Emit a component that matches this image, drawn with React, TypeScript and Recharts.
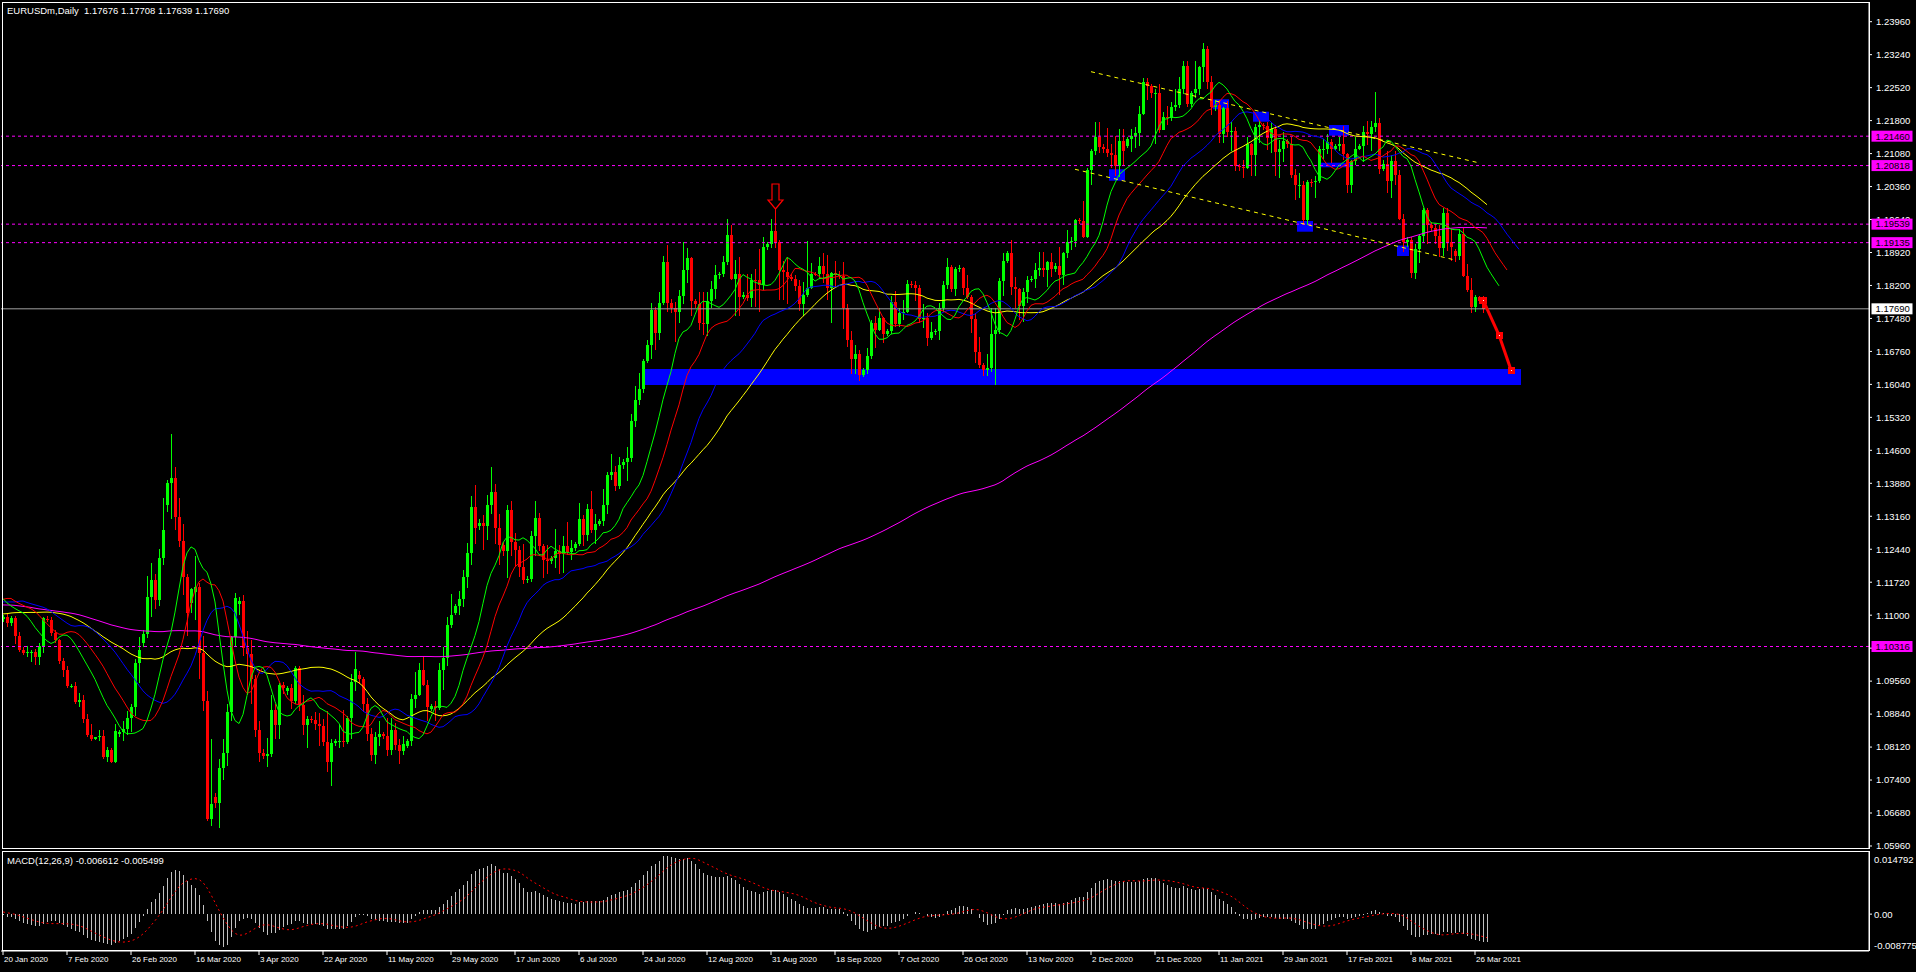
import React from 'react';
import { ComposedChart, Bar, Line, XAxis, YAxis, ReferenceLine, ReferenceArea, ReferenceDot } from 'recharts';

type Candle = [number, number, number, number];

// ---------- prior closes (only used to warm up the indicators) ----------
const pre2019Summer = [
  1.1175, 1.1240, 1.1253, 1.1222, 1.1276, 1.1333,
  1.1330, 1.1313, 1.1328, 1.1287, 1.1275, 1.1209,
  1.1212, 1.1218, 1.1193, 1.1225, 1.1294, 1.1370,
  1.1375, 1.1398, 1.1367, 1.1368, 1.1372, 1.1370,
  1.1365, 1.1287, 1.1285, 1.1284, 1.1285, 1.1225,
  1.1222, 1.1213, 1.1207, 1.1252, 1.1257, 1.1271,
  1.1270, 1.1262, 1.1211, 1.1225, 1.1275, 1.1219,
  1.1218, 1.1209, 1.1150, 1.1140, 1.1145, 1.1128,
  1.1127, 1.1126, 1.1155, 1.1075, 1.1083, 1.1108,
  1.1110, 1.1203, 1.1200, 1.1183, 1.1180, 1.1198,
  1.1195, 1.1213, 1.1171, 1.1140, 1.1107, 1.1090,
  1.1090, 1.1095, 1.1095, 1.1083, 1.1078, 1.1143,
  1.1140, 1.1102, 1.1089, 1.1081, 1.1057, 1.0990,
];
const pre2019Autumn = [
  1.0985, 1.0970, 1.0972, 1.1034, 1.1033, 1.1027,
  1.1025, 1.1044, 1.1043, 1.1010, 1.1063, 1.1073,
  1.1070, 1.1003, 1.1072, 1.1030, 1.1042, 1.1017,
  1.1015, 1.0989, 1.1020, 1.0941, 1.0940, 1.0940,
  1.0938, 1.0899, 1.0933, 1.0959, 1.0965, 1.0978,
  1.0975, 1.0971, 1.0956, 1.0971, 1.1006, 1.1040,
  1.1038, 1.1032, 1.1030, 1.1068, 1.1123, 1.1143,
  1.1145, 1.1150, 1.1127, 1.1134, 1.1104, 1.1081,
  1.1080, 1.1096, 1.1117, 1.1153, 1.1152, 1.1166,
  1.1165, 1.1127, 1.1065, 1.1068, 1.1049, 1.1018,
  1.1020, 1.1034, 1.1007, 1.1003, 1.1021, 1.1052,
  1.1050, 1.1074, 1.1077, 1.1058, 1.1055, 1.1020,
  1.1021, 1.1011, 1.1021, 1.1008, 1.1010, 1.1016,
];
const pre2019Winter = [
  1.1017, 1.1078, 1.1082, 1.1078, 1.1105, 1.1058,
  1.1060, 1.1065, 1.1093, 1.1130, 1.1130, 1.1119,
  1.1120, 1.1144, 1.1150, 1.1114, 1.1122, 1.1079,
  1.1080, 1.1089, 1.1089, 1.1098, 1.1178,
  1.1176, 1.1199, 1.1213, 1.1171, 1.1160,
  1.1158, 1.1195, 1.1153, 1.1106, 1.1104, 1.1120,
  1.1122, 1.1133, 1.1127, 1.1150, 1.1136, 1.1090,
  1.1092,
];

// ---------- daily candles [open, high, low, close] ----------
const jan2020: Candle[] = [
  [1.1092,1.1100,1.1085,1.1095],[1.1095,1.1104,1.1075,1.1082],[1.1082,1.1099,1.1077,1.1093],[1.1093,1.1098,1.1036,1.1055],[1.1055,1.1064,1.1019,1.1025],
  [1.1024,1.1030,1.1013,1.1018],[1.1018,1.1032,1.1008,1.1019],[1.1019,1.1025,1.0998,1.1020],[1.1020,1.1027,1.0992,1.1008],[1.1008,1.1039,1.0992,1.1032],[1.1032,1.1097,1.1018,1.1093],
];
const feb2020: Candle[] = [
  [1.1092,1.1098,1.1086,1.1090],[1.1090,1.1095,1.1055,1.1061],[1.1061,1.1068,1.1039,1.1045],[1.1045,1.1048,1.0994,1.1000],[1.1000,1.1007,1.0965,1.0980],[1.0980,1.0990,1.0940,1.0945],
  [1.0944,1.0950,1.0940,1.0946],[1.0946,1.0955,1.0905,1.0910],[1.0910,1.0930,1.0900,1.0915],[1.0915,1.0925,1.0865,1.0873],[1.0873,1.0885,1.0835,1.0839],[1.0839,1.0862,1.0825,1.0830],
  [1.0830,1.0835,1.0828,1.0833],[1.0833,1.0850,1.0825,1.0836],[1.0836,1.0850,1.0786,1.0790],[1.0790,1.0812,1.0780,1.0805],[1.0805,1.0810,1.0778,1.0780],[1.0780,1.0863,1.0777,1.0846],
  [1.0840,1.0850,1.0835,1.0845],[1.0845,1.0870,1.0826,1.0851],[1.0851,1.0890,1.0838,1.0876],[1.0876,1.0905,1.0845,1.0900],[1.0900,1.1005,1.0880,1.0995],[1.0995,1.1053,1.0953,1.1025],
];
const mar2020: Candle[] = [
  [1.1040,1.1068,1.1030,1.1060],[1.1060,1.1185,1.1050,1.1140],[1.1140,1.1214,1.1095,1.1177],[1.1177,1.1190,1.1113,1.1134],[1.1134,1.1245,1.1120,1.1225],[1.1225,1.1355,1.1210,1.1285],
  [1.1340,1.1395,1.1325,1.1389],[1.1389,1.1495,1.1310,1.1400],[1.1400,1.1424,1.1285,1.1314],[1.1314,1.1355,1.1248,1.1261],[1.1261,1.1300,1.1145,1.1184],[1.1184,1.1190,1.1055,1.1104],
  [1.1127,1.1160,1.1105,1.1157],[1.1150,1.1230,1.1090,1.1162],[1.1162,1.1170,1.0960,1.1017],[1.1017,1.1055,1.0890,1.0912],[1.0912,1.0935,1.0650,1.0656],[1.0656,1.0830,1.0640,1.0688],
  [1.0704,1.0712,1.0680,1.0690],[1.0690,1.0785,1.0636,1.0766],[1.0766,1.0830,1.0740,1.0799],[1.0799,1.0905,1.0770,1.0889],[1.0889,1.1055,1.0870,1.1053],[1.1053,1.1148,1.1030,1.1137],
  [1.1125,1.1140,1.1100,1.1130],[1.1130,1.1145,1.1010,1.1028],[1.1028,1.1065,1.0925,1.1015],
];
const apr2020: Candle[] = [
  [1.1015,1.1045,1.0905,1.0960],[1.0960,1.0970,1.0835,1.0850],[1.0850,1.0870,1.0780,1.0800],
  [1.0800,1.0808,1.0785,1.0792],[1.0792,1.0832,1.0768,1.0796],[1.0796,1.0925,1.0790,1.0893],[1.0893,1.0905,1.0830,1.0860],[1.0860,1.0952,1.0830,1.0948],[1.0948,1.0955,1.0928,1.0940],
  [1.0935,1.0945,1.0925,1.0940],[1.0940,1.0950,1.0895,1.0913],[1.0913,1.0990,1.0905,1.0984],[1.0984,1.0990,1.0890,1.0904],[1.0904,1.0925,1.0838,1.0860],[1.0860,1.0879,1.0810,1.0874],
  [1.0874,1.0880,1.0865,1.0872],[1.0872,1.0889,1.0850,1.0863],[1.0863,1.0887,1.0814,1.0858],[1.0858,1.0873,1.0815,1.0823],[1.0823,1.0890,1.0757,1.0780],[1.0780,1.0829,1.0728,1.0820],
  [1.0820,1.0830,1.0815,1.0825],[1.0825,1.0860,1.0810,1.0825],[1.0825,1.0892,1.0813,1.0823],[1.0823,1.0880,1.0818,1.0876],[1.0876,1.0972,1.0830,1.0955],
];
const may2020: Candle[] = [
  [1.0955,1.1019,1.0935,1.0982],
  [1.0970,1.0978,1.0950,1.0960],[1.0960,1.0965,1.0888,1.0905],[1.0905,1.0920,1.0826,1.0840],[1.0840,1.0854,1.0782,1.0795],[1.0795,1.0845,1.0775,1.0833],[1.0833,1.0868,1.0815,1.0840],
  [1.0840,1.0845,1.0830,1.0836],[1.0836,1.0876,1.0793,1.0806],[1.0806,1.0875,1.0795,1.0850],[1.0850,1.0864,1.0806,1.0816],[1.0816,1.0830,1.0775,1.0804],[1.0804,1.0836,1.0795,1.0818],
  [1.0815,1.0830,1.0810,1.0825],[1.0825,1.0927,1.0815,1.0917],[1.0917,1.0976,1.0898,1.0925],[1.0925,1.0995,1.0923,1.0980],[1.0980,1.1008,1.0946,1.0948],[1.0948,1.0958,1.0870,1.0900],
  [1.0895,1.0906,1.0890,1.0902],[1.0902,1.0912,1.0870,1.0897],[1.0897,1.0995,1.0892,1.0980],[1.0980,1.1030,1.0936,1.1007],[1.1007,1.1097,1.0990,1.1079],[1.1079,1.1147,1.1072,1.1100],
  [1.1105,1.1125,1.1100,1.1120],
];
const jun2020: Candle[] = [
  [1.1120,1.1153,1.1100,1.1135],[1.1135,1.1198,1.1117,1.1184],[1.1184,1.1257,1.1160,1.1235],[1.1235,1.1361,1.1210,1.1337],[1.1337,1.1384,1.1256,1.1290],
  [1.1295,1.1310,1.1285,1.1302],[1.1302,1.1319,1.1242,1.1295],[1.1295,1.1362,1.1264,1.1340],[1.1340,1.1424,1.1320,1.1370],[1.1370,1.1387,1.1255,1.1290],[1.1290,1.1322,1.1209,1.1253],
  [1.1253,1.1260,1.1230,1.1240],[1.1240,1.1340,1.1181,1.1330],[1.1330,1.1349,1.1230,1.1260],[1.1260,1.1280,1.1205,1.1243],[1.1243,1.1251,1.1184,1.1205],[1.1205,1.1255,1.1168,1.1177],
  [1.1177,1.1185,1.1170,1.1180],[1.1180,1.1284,1.1172,1.1272],[1.1272,1.1349,1.1229,1.1312],[1.1312,1.1323,1.1240,1.1250],[1.1250,1.1255,1.1181,1.1220],[1.1220,1.1254,1.1190,1.1218],
  [1.1218,1.1230,1.1212,1.1225],[1.1225,1.1288,1.1202,1.1240],[1.1240,1.1254,1.1190,1.1234],
];
const jul2020: Candle[] = [
  [1.1234,1.1272,1.1193,1.1251],[1.1251,1.1303,1.1231,1.1238],[1.1238,1.1265,1.1221,1.1246],
  [1.1246,1.1260,1.1240,1.1255],[1.1255,1.1345,1.1250,1.1309],[1.1309,1.1318,1.1251,1.1276],[1.1276,1.1342,1.1262,1.1331],[1.1331,1.1371,1.1280,1.1286],[1.1286,1.1320,1.1255,1.1300],
  [1.1300,1.1310,1.1295,1.1305],[1.1305,1.1375,1.1295,1.1341],[1.1341,1.1412,1.1320,1.1407],[1.1407,1.1452,1.1396,1.1412],[1.1412,1.1426,1.1371,1.1383],[1.1383,1.1445,1.1375,1.1429],
  [1.1429,1.1440,1.1420,1.1435],[1.1435,1.1468,1.1394,1.1444],[1.1444,1.1540,1.1435,1.1525],[1.1525,1.1600,1.1510,1.1569],[1.1569,1.1628,1.1560,1.1595],[1.1595,1.1660,1.1585,1.1656],
  [1.1656,1.1700,1.1650,1.1690],[1.1690,1.1781,1.1660,1.1766],[1.1766,1.1772,1.1680,1.1716],[1.1716,1.1806,1.1700,1.1781],[1.1781,1.1885,1.1778,1.1872],[1.1872,1.1908,1.1761,1.1781],
];
const aug2020: Candle[] = [
  [1.1781,1.1790,1.1760,1.1770],[1.1770,1.1784,1.1696,1.1762],[1.1762,1.1810,1.1737,1.1798],[1.1798,1.1916,1.1780,1.1853],[1.1853,1.1902,1.1825,1.1879],[1.1879,1.1883,1.1753,1.1785],
  [1.1785,1.1790,1.1770,1.1780],[1.1780,1.1806,1.1723,1.1739],[1.1739,1.1805,1.1711,1.1736],[1.1736,1.1805,1.1710,1.1787],[1.1787,1.1829,1.1770,1.1812],[1.1812,1.1865,1.1790,1.1842],
  [1.1842,1.1850,1.1835,1.1845],[1.1845,1.1885,1.1838,1.1871],[1.1871,1.1966,1.1865,1.1930],[1.1930,1.1951,1.1831,1.1835],[1.1835,1.1876,1.1753,1.1846],[1.1846,1.1883,1.1753,1.1795],
  [1.1795,1.1805,1.1790,1.1800],[1.1800,1.1845,1.1786,1.1792],[1.1792,1.1845,1.1774,1.1833],[1.1833,1.1855,1.1772,1.1831],[1.1831,1.1900,1.1762,1.1820],[1.1820,1.1925,1.1811,1.1903],
  [1.1903,1.1915,1.1898,1.1910],[1.1910,1.1966,1.1902,1.1938],
];
const sep2020: Candle[] = [
  [1.1938,1.2003,1.1901,1.1915],[1.1915,1.1919,1.1789,1.1853],[1.1853,1.1874,1.1789,1.1850],[1.1850,1.1882,1.1780,1.1838],
  [1.1838,1.1845,1.1830,1.1835],[1.1835,1.1843,1.1807,1.1819],[1.1819,1.1832,1.1765,1.1780],[1.1780,1.1827,1.1754,1.1800],[1.1800,1.1917,1.1795,1.1814],[1.1814,1.1870,1.1812,1.1846],
  [1.1846,1.1850,1.1840,1.1845],[1.1845,1.1883,1.1834,1.1863],[1.1863,1.1890,1.1826,1.1845],[1.1845,1.1886,1.1789,1.1815],[1.1815,1.1850,1.1737,1.1848],[1.1848,1.1873,1.1817,1.1843],
  [1.1843,1.1852,1.1835,1.1840],[1.1840,1.1872,1.1725,1.1770],[1.1770,1.1780,1.1685,1.1701],[1.1701,1.1720,1.1626,1.1660],[1.1660,1.1690,1.1627,1.1670],[1.1670,1.1680,1.1612,1.1625],
  [1.1625,1.1640,1.1620,1.1635],[1.1635,1.1684,1.1627,1.1666],[1.1666,1.1745,1.1660,1.1737],[1.1737,1.1754,1.1683,1.1722],
];
const oct2020: Candle[] = [
  [1.1722,1.1771,1.1720,1.1750],[1.1750,1.1751,1.1695,1.1713],
  [1.1713,1.1725,1.1710,1.1720],[1.1720,1.1797,1.1715,1.1783],[1.1783,1.1807,1.1730,1.1735],[1.1735,1.1771,1.1730,1.1760],[1.1760,1.1788,1.1745,1.1763],[1.1763,1.1831,1.1759,1.1824],
  [1.1824,1.1830,1.1815,1.1820],[1.1820,1.1829,1.1785,1.1814],[1.1814,1.1820,1.1737,1.1746],[1.1746,1.1779,1.1728,1.1748],[1.1748,1.1760,1.1688,1.1706],[1.1706,1.1741,1.1700,1.1718],
  [1.1718,1.1725,1.1712,1.1720],[1.1720,1.1781,1.1702,1.1770],[1.1770,1.1829,1.1761,1.1820],[1.1820,1.1881,1.1813,1.1860],[1.1860,1.1865,1.1806,1.1812],[1.1812,1.1860,1.1798,1.1855],
  [1.1855,1.1865,1.1850,1.1858],[1.1858,1.1861,1.1800,1.1814],[1.1814,1.1842,1.1790,1.1795],[1.1795,1.1800,1.1717,1.1746],[1.1746,1.1760,1.1650,1.1674],[1.1674,1.1708,1.1640,1.1646],
];
const nov2020: Candle[] = [
  [1.1646,1.1650,1.1622,1.1635],[1.1635,1.1670,1.1622,1.1640],[1.1640,1.1770,1.1630,1.1715],[1.1715,1.1770,1.1603,1.1722],[1.1722,1.1837,1.1713,1.1830],[1.1830,1.1891,1.1797,1.1874],
  [1.1874,1.1895,1.1870,1.1890],[1.1890,1.1920,1.1800,1.1817],[1.1817,1.1838,1.1771,1.1813],[1.1813,1.1815,1.1745,1.1775],[1.1775,1.1815,1.1740,1.1806],[1.1806,1.1840,1.1781,1.1833],
  [1.1833,1.1840,1.1828,1.1835],[1.1835,1.1870,1.1815,1.1853],[1.1853,1.1894,1.1840,1.1859],[1.1859,1.1892,1.1838,1.1853],[1.1853,1.1874,1.1817,1.1871],[1.1871,1.1891,1.1838,1.1855],
  [1.1855,1.1868,1.1850,1.1862],[1.1862,1.1905,1.1800,1.1843],[1.1843,1.1892,1.1821,1.1890],[1.1890,1.1942,1.1880,1.1915],[1.1915,1.1925,1.1897,1.1917],[1.1917,1.1965,1.1905,1.1962],
  [1.1962,1.1968,1.1955,1.1960],[1.1960,1.2004,1.1923,1.1926],
];
const dec2020: Candle[] = [
  [1.1926,1.2077,1.1924,1.2072],[1.2072,1.2118,1.2039,1.2113],[1.2113,1.2176,1.2104,1.2145],[1.2145,1.2177,1.2110,1.2122],
  [1.2122,1.2128,1.2110,1.2118],[1.2118,1.2164,1.2100,1.2109],[1.2109,1.2130,1.2076,1.2105],[1.2105,1.2147,1.2058,1.2080],[1.2080,1.2162,1.2057,1.2135],[1.2135,1.2161,1.2080,1.2113],
  [1.2125,1.2145,1.2120,1.2140],[1.2140,1.2162,1.2112,1.2146],[1.2146,1.2166,1.2121,1.2153],[1.2153,1.2212,1.2125,1.2195],[1.2195,1.2273,1.2192,1.2265],[1.2265,1.2272,1.2224,1.2255],
  [1.2255,1.2260,1.2230,1.2240],[1.2240,1.2250,1.2130,1.2240],[1.2240,1.2260,1.2153,1.2160],[1.2160,1.2198,1.2159,1.2187],[1.2187,1.2212,1.2170,1.2185],
  [1.2185,1.2220,1.2180,1.2210],[1.2210,1.2250,1.2200,1.2215],[1.2215,1.2276,1.2207,1.2248],[1.2248,1.2310,1.2239,1.2299],[1.2299,1.2310,1.2210,1.2216],
];
const jan2021: Candle[] = [
  [1.2216,1.2245,1.2210,1.2240],[1.2240,1.2310,1.2230,1.2249],[1.2249,1.2300,1.2235,1.2298],[1.2298,1.2349,1.2265,1.2336],[1.2336,1.2344,1.2250,1.2265],[1.2265,1.2278,1.2193,1.2210],
  [1.2210,1.2225,1.2200,1.2215],[1.2215,1.2225,1.2132,1.2151],[1.2151,1.2210,1.2132,1.2208],[1.2208,1.2222,1.2145,1.2156],[1.2156,1.2178,1.2113,1.2157],[1.2157,1.2165,1.2070,1.2080],
  [1.2080,1.2085,1.2070,1.2078],[1.2078,1.2095,1.2054,1.2076],[1.2076,1.2145,1.2075,1.2130],[1.2130,1.2131,1.2060,1.2105],[1.2105,1.2172,1.2058,1.2167],[1.2167,1.2180,1.2131,1.2170],
  [1.2170,1.2175,1.2160,1.2168],[1.2168,1.2177,1.2116,1.2142],[1.2142,1.2177,1.2110,1.2161],[1.2161,1.2170,1.2058,1.2111],[1.2111,1.2137,1.2054,1.2118],[1.2118,1.2155,1.2090,1.2135],
  [1.2135,1.2140,1.2120,1.2128],
];
const feb2021: Candle[] = [
  [1.2128,1.2144,1.2054,1.2061],[1.2061,1.2075,1.2006,1.2040],[1.2040,1.2066,1.2012,1.2040],[1.2040,1.2048,1.1952,1.1963],[1.1963,1.2050,1.1951,1.2047],
  [1.2047,1.2052,1.2035,1.2045],[1.2045,1.2059,1.2012,1.2049],[1.2049,1.2124,1.2044,1.2118],[1.2118,1.2140,1.2096,1.2118],[1.2118,1.2150,1.2108,1.2133],[1.2133,1.2139,1.2088,1.2118],
  [1.2118,1.2130,1.2115,1.2125],[1.2125,1.2145,1.2113,1.2128],[1.2128,1.2169,1.2095,1.2107],[1.2107,1.2110,1.2022,1.2040],[1.2040,1.2095,1.2023,1.2091],[1.2091,1.2145,1.2083,1.2119],
  [1.2119,1.2130,1.2115,1.2125],[1.2125,1.2169,1.2090,1.2155],[1.2155,1.2180,1.2126,1.2150],[1.2150,1.2180,1.2113,1.2166],[1.2166,1.2243,1.2155,1.2174],[1.2174,1.2185,1.2063,1.2075],
  [1.2075,1.2095,1.2070,1.2085],
];
const mar2021: Candle[] = [
  [1.2085,1.2113,1.2022,1.2048],[1.2048,1.2105,1.2010,1.2091],[1.2091,1.2114,1.2040,1.2062],[1.2062,1.2072,1.1962,1.1966],[1.1966,1.1975,1.1893,1.1915],
  [1.1915,1.1925,1.1905,1.1920],[1.1920,1.1925,1.1836,1.1847],[1.1847,1.1910,1.1835,1.1900],[1.1900,1.1930,1.1870,1.1929],[1.1929,1.1990,1.1916,1.1985],[1.1985,1.1990,1.1910,1.1952],
  [1.1952,1.1958,1.1940,1.1945],[1.1945,1.1955,1.1910,1.1929],[1.1929,1.1952,1.1882,1.1902],[1.1902,1.1990,1.1884,1.1978],[1.1978,1.1989,1.1895,1.1914],[1.1914,1.1944,1.1874,1.1905],
  [1.1895,1.1900,1.1872,1.1885],[1.1885,1.1943,1.1875,1.1933],[1.1933,1.1945,1.1838,1.1840],[1.1840,1.1866,1.1805,1.1811],[1.1811,1.1837,1.1759,1.1774],[1.1774,1.1800,1.1762,1.1794],
  [1.1794,1.1797,1.1780,1.1785],[1.1785,1.1798,1.1759,1.1768],[1.17676,1.17708,1.17639,1.17690],
];

// ---------- axis labels, levels, drawn objects ----------
const priceTicks = [1.0596,1.0668,1.0740,1.0812,1.0884,1.0956,1.1028,1.1100,1.1172,1.1244,1.1316,1.1388,1.1460,1.1532,1.1604,1.1676,1.1748,1.1820,1.1892,1.1964,1.2036,1.2108,1.2180,1.2252,1.2324,1.2396];
const dateTicks = ['20 Jan 2020','7 Feb 2020','26 Feb 2020','16 Mar 2020','3 Apr 2020','22 Apr 2020','11 May 2020','29 May 2020','17 Jun 2020','6 Jul 2020','24 Jul 2020','12 Aug 2020','31 Aug 2020','18 Sep 2020','7 Oct 2020','26 Oct 2020','13 Nov 2020','2 Dec 2020','21 Dec 2020','11 Jan 2021','29 Jan 2021','17 Feb 2021','8 Mar 2021','26 Mar 2021'];
const levelLines = [1.21460, 1.20818, 1.19539, 1.19135, 1.10316];
const currentPrice = 1.17690;
const macdTicks = [0.014792, 0, -0.008775];
const zones = [
  { x1: 161, x2: 379, y1: 1.16027, y2: 1.16376 },
  { x1: 277, x2: 280, y1: 1.20488, y2: 1.20737 },
  { x1: 303, x2: 306, y1: 1.22047, y2: 1.22266 },
  { x1: 313, x2: 316, y1: 1.21776, y2: 1.21995 },
  { x1: 324, x2: 327, y1: 1.19374, y2: 1.19608 },
  { x1: 332, x2: 336, y1: 1.21471, y2: 1.21704 },
  { x1: 330, x2: 337, y1: 1.20781, y2: 1.20881 },
  { x1: 349, x2: 351, y1: 1.18844, y2: 1.19073 },
];
const channelUpper = [{ x: 272, y: 1.22868 }, { x: 369, y: 1.20877 }];
const channelLower = [{ x: 268, y: 1.20737 }, { x: 363, y: 1.18756 }];
const forecastPath = [{ x: 370, y: 1.17883 }, { x: 374, y: 1.17118 }, { x: 377, y: 1.16354 }];
const signalArrow = { x: 193, y: 1.19848 };

// ---------- derived series ----------
const months = [jan2020, feb2020, mar2020, apr2020, may2020, jun2020, jul2020, aug2020, sep2020, oct2020, nov2020, dec2020, jan2021, feb2021, mar2021];
const candles: Candle[] = ([] as Candle[]).concat(...months);
const preCloses = [...pre2019Summer, ...pre2019Autumn, ...pre2019Winter];
const P = preCloses.length;
const N = candles.length;
const SLOTS = 467;
const closes = [...preCloses, ...candles.map((c) => c[3])];
const medians = [...preCloses, ...candles.map((c) => (c[1] + c[2]) / 2)];

function smaSeries(src: number[], n: number) {
  const out: number[] = [];
  let sum = 0;
  for (let k = 0; k < src.length; k++) {
    sum += src[k];
    if (k >= n) sum -= src[k - n];
    out.push(sum / Math.min(n, k + 1));
  }
  return out;
}
function smmaSeries(src: number[], n: number) {
  const out: (number | undefined)[] = [];
  let prev = 0;
  for (let k = 0; k < src.length; k++) {
    if (k < n - 1) { out.push(undefined); continue; }
    if (k === n - 1) { let s = 0; for (let j = 0; j < n; j++) s += src[j]; prev = s / n; }
    else prev = (prev * (n - 1) + src[k]) / n;
    out.push(prev);
  }
  return out;
}
function emaSeries(src: number[], n: number) {
  const a = 2 / (n + 1);
  const out: number[] = [];
  for (let k = 0; k < src.length; k++) out.push(k === 0 ? src[0] : a * src[k] + (1 - a) * out[k - 1]);
  return out;
}
const lips = smmaSeries(medians, 5);
const teeth = smmaSeries(medians, 8);
const jaw = smmaSeries(medians, 13);
const sma50 = smaSeries(closes, 50);
const sma200 = smaSeries(closes, 200);
const ema12 = emaSeries(closes, 12);
const ema26 = emaSeries(closes, 26);
const macdMain = ema12.map((v, k) => v - ema26[k]);
const macdSignal = smaSeries(macdMain, 9);
const at = (arr: (number | undefined)[], k: number) => (k >= 0 && k < arr.length ? arr[k] : undefined);

const rows = Array.from({ length: SLOTS }, (_, s) => {
  const c = s < N ? candles[s] : undefined;
  const g = P + s;
  return {
    i: s,
    hl: c ? [c[2], c[1]] : undefined,
    o: c ? c[0] : undefined,
    h: c ? c[1] : undefined,
    l: c ? c[2] : undefined,
    c: c ? c[3] : undefined,
    lips: at(lips, g - 3),
    teeth: at(teeth, g - 5),
    jaw: at(jaw, g - 8),
    ma50: s < N ? at(sma50, g) : undefined,
    ma200: s < N ? at(sma200, g) : undefined,
    macd: s < N ? at(macdMain, g) : undefined,
    signal: s < N ? at(macdSignal, g) : undefined,
  };
});
const dateTickIdx = dateTicks.map((_, k) => k * 16);

const FONT = 'Liberation Sans, Arial, sans-serif';

// ---------- shapes ----------
const CandleShape = (props: any) => {
  const { x, y, width, height, payload } = props;
  if (!payload || payload.o == null) return <g />;
  const { o, h, l, c } = payload;
  const top = Math.min(y, y + height);
  const bot = Math.max(y, y + height);
  const k = h > l ? (bot - top) / (h - l) : 0;
  const yO = top + (h - o) * k;
  const yC = top + (h - c) * k;
  const cx = Math.round(x + width / 2);
  const color = c >= o ? '#00ff00' : '#ff0000';
  const bTop = Math.round(Math.min(yO, yC));
  const bBot = Math.round(Math.max(yO, yC));
  return (
    <g shapeRendering="crispEdges">
      <rect x={cx} y={Math.round(top)} width={1} height={Math.max(1, Math.round(bot) - Math.round(top))} fill={color} />
      <rect x={cx - 1} y={bTop} width={3} height={Math.max(1, bBot - bTop)} fill={color} />
    </g>
  );
};
const HistShape = (props: any) => {
  const { x, y, width, height } = props;
  if (height == null || isNaN(height)) return <g />;
  const top = Math.min(y, y + height);
  const h = Math.abs(height);
  return <rect x={Math.round(x + width / 2)} y={top} width={1} height={Math.max(0.5, h)} fill="#c0c0c0" shapeRendering="crispEdges" />;
};
const priceTag = (text: string, bg: string) => (p: any) => {
  const vb = p.viewBox || {};
  const x = (vb.x || 0) + (vb.width || 0) + 2.5;
  const y = vb.y || 0;
  return (
    <g>
      <rect x={x} y={y - 5.5} width={41} height={11} fill={bg} />
      <text x={x + 4} y={y} dy="0.35em" fontSize={9.5} fontFamily={FONT} fill="#000">{text}</text>
    </g>
  );
};
const ArrowDown = (p: any) => {
  const { cx, cy } = p;
  const pts = [[-3.5, -26], [3.5, -26], [3.5, -10], [7.5, -10], [0, -1], [-7.5, -10], [-3.5, -10]]
    .map(([dx, dy]) => `${cx + 0.5 + dx},${cy + dy}`).join(' ');
  return <polygon points={pts} fill="#000" stroke="#ff0000" strokeWidth={1.2} />;
};
const SquareMark = (p: any) => (
  <g shapeRendering="crispEdges">
    <rect x={p.cx - 3} y={p.cy - 3} width={7} height={7} fill="#ff0000" />
    <rect x={p.cx} y={p.cy} width={1} height={1} fill="#ffffff" />
  </g>
);
const MacdTick = (p: any) => {
  const v = p.payload.value;
  const dy = v > 0.005 ? 10.5 : v < -0.005 ? -2.5 : 3.5;
  const txt = v === 0 ? '0.00' : v.toFixed(6);
  return (
    <g>
      {v === 0 ? <line x1={1869} x2={1872} y1={p.y} y2={p.y} stroke="#fff" /> : null}
      <text x={p.x} y={p.y} dy={dy} fontSize={9.5} fontFamily={FONT} fill="#fff">{txt}</text>
    </g>
  );
};
const DateTick = (p: any) => {
  const idx = Math.round(p.payload.value / 16);
  return <text x={p.x + 1} y={p.y} dy="0.71em" fontSize={8} fontFamily={FONT} fill="#fff">{dateTicks[idx]}</text>;
};

export default function App() {
  return (
    <div style={{ position: 'absolute', left: 0, top: 0, width: 1916, height: 972, background: '#000', overflow: 'hidden', fontFamily: FONT }}>
      <div style={{ position: 'absolute', left: 0, top: 0 }}>
        <ComposedChart width={1916} height={850} data={rows} margin={{ top: 2, right: 0, bottom: 2, left: 1 }} barCategoryGap={0} barGap={0}>
          <XAxis dataKey="i" hide />
          <YAxis orientation="right" width={47} domain={[1.05916, 1.2439]} allowDataOverflow ticks={priceTicks} interval={0}
            axisLine={{ stroke: '#fff' }} tickLine={{ stroke: '#fff' }} tickSize={3} tickMargin={4}
            tick={{ fill: '#fff', fontSize: 9.5, fontFamily: FONT }} tickFormatter={(v: number) => v.toFixed(5)} />
          {zones.map((z, k) => (
            <ReferenceArea key={'z' + k} x1={z.x1} x2={z.x2} y1={z.y1} y2={z.y2} fill="#0000ff" fillOpacity={1} stroke="none" />
          ))}
          {levelLines.map((v) => (
            <ReferenceLine key={'lv' + v} y={v} stroke="#ff00ff" strokeDasharray="3 3" />
          ))}
          <ReferenceLine y={currentPrice} stroke="#a0a0a0" />
          <Bar dataKey="hl" shape={CandleShape} isAnimationActive={false} />
          <Line dataKey="ma200" stroke="#ff00ff" dot={false} activeDot={false} strokeWidth={1} isAnimationActive={false} />
          <Line dataKey="ma50" stroke="#ffff00" dot={false} activeDot={false} strokeWidth={1} isAnimationActive={false} />
          <Line dataKey="jaw" stroke="#0000ff" dot={false} activeDot={false} strokeWidth={1} isAnimationActive={false} />
          <Line dataKey="teeth" stroke="#ff0000" dot={false} activeDot={false} strokeWidth={1} isAnimationActive={false} />
          <Line dataKey="lips" stroke="#00ff00" dot={false} activeDot={false} strokeWidth={1} isAnimationActive={false} />
          <ReferenceLine segment={channelUpper} stroke="#ffff00" strokeDasharray="4 4" />
          <ReferenceLine segment={channelLower} stroke="#ffff00" strokeDasharray="4 4" />
          <ReferenceLine segment={[forecastPath[0], forecastPath[1]]} stroke="#ff0000" strokeWidth={3} />
          <ReferenceLine segment={[forecastPath[1], forecastPath[2]]} stroke="#ff0000" strokeWidth={3} />
          {forecastPath.map((p, k) => (
            <ReferenceDot key={'f' + k} x={p.x} y={p.y} r={3} shape={SquareMark} />
          ))}
          <ReferenceDot x={signalArrow.x} y={signalArrow.y} r={5} shape={ArrowDown} />
        </ComposedChart>
      </div>
      {/* price tags layer, drawn above the axis labels */}
      <div style={{ position: 'absolute', left: 0, top: 0, pointerEvents: 'none' }}>
        <ComposedChart width={1916} height={850} data={rows} margin={{ top: 2, right: 0, bottom: 2, left: 1 }}>
          <XAxis dataKey="i" hide />
          <YAxis orientation="right" width={47} domain={[1.05916, 1.2439]} allowDataOverflow ticks={[]} tick={false} axisLine={false} tickLine={false} />
          {levelLines.map((v) => (
            <ReferenceLine key={'tag' + v} y={v} stroke="none" strokeOpacity={0} label={priceTag(v.toFixed(5), '#ff00ff')} />
          ))}
          <ReferenceLine y={currentPrice} stroke="none" strokeOpacity={0} label={priceTag(currentPrice.toFixed(5), '#ffffff')} />
        </ComposedChart>
      </div>
      <div style={{ position: 'absolute', left: 0, top: 850 }}>
        <ComposedChart width={1916} height={122} data={rows} margin={{ top: 2, right: 0, bottom: 0, left: 1 }} barCategoryGap={0} barGap={0}>
          <XAxis dataKey="i" ticks={dateTickIdx} interval={0} height={21} axisLine={{ stroke: '#fff' }} tickLine={{ stroke: '#fff' }} tickSize={4} tickMargin={1} tick={DateTick} />
          <YAxis orientation="right" width={47} domain={[-0.008775, 0.014792]} allowDataOverflow ticks={macdTicks} interval={0}
            axisLine={{ stroke: '#fff' }} tickLine={false} tickSize={0} tickMargin={5} tick={MacdTick} />
          <Bar dataKey="macd" shape={HistShape} isAnimationActive={false} />
          <Line dataKey="signal" stroke="#ff0000" strokeDasharray="2 3" dot={false} activeDot={false} strokeWidth={1} isAnimationActive={false} />
        </ComposedChart>
      </div>
      <svg width={1916} height={972} style={{ position: 'absolute', left: 0, top: 0, pointerEvents: 'none' }}>
        <rect x={2.5} y={2.5} width={1867} height={846} fill="none" stroke="#fff" strokeWidth={1} />
        <rect x={2.5} y={851.5} width={1867} height={99} fill="none" stroke="#fff" strokeWidth={1} />
        <text x={7} y={14} fontSize={9.5} fontFamily={FONT} fill="#fff" style={{ whiteSpace: 'pre' }}>{'EURUSDm,Daily  1.17676 1.17708 1.17639 1.17690'}</text>
        <text x={7} y={864} fontSize={9.5} fontFamily={FONT} fill="#fff" style={{ whiteSpace: 'pre' }}>{'MACD(12,26,9) -0.006612 -0.005499'}</text>
      </svg>
    </div>
  );
}
